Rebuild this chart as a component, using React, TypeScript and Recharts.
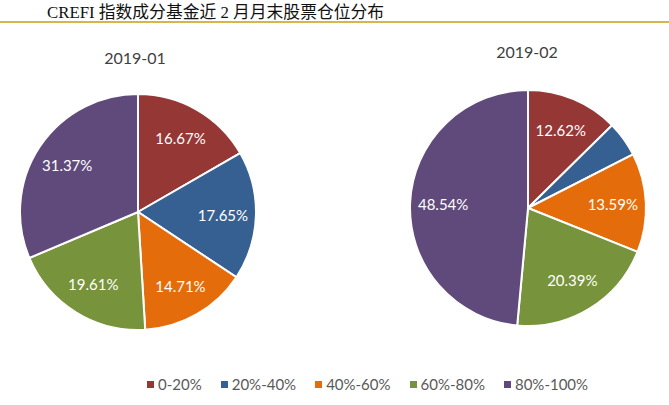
import React from 'react';
import { PieChart, Pie, Cell } from 'recharts';

// stock position buckets
const CATEGORIES = ['0-20%', '20%-40%', '40%-60%', '60%-80%', '80%-100%'];
const JAN_VALUES = [16.67, 17.65, 14.71, 19.61, 31.37];
const FEB_VALUES = [12.62, 4.86, 13.59, 20.39, 48.54];
const PERIODS = ['2019-01', '2019-02'];

const COLORS = ['#953735', '#376092', '#E46C0A', '#77933C', '#604A7B'];
const FONT = 'Lato, "Noto Sans", sans-serif';
const RADIAN = Math.PI / 180;

const janData = CATEGORIES.map((name, i) => ({ name, value: JAN_VALUES[i] }));
const febData = CATEGORIES.map((name, i) => ({ name, value: FEB_VALUES[i] }));

const renderLabel = (props: any) => {
  const { cx, cy, midAngle, outerRadius, value } = props;
  // small slices get no label, like the original
  if (value < 6) return null;
  const r = outerRadius * 0.72;
  const x = cx + r * Math.cos(-midAngle * RADIAN);
  const y = cy + r * Math.sin(-midAngle * RADIAN);
  return (
    <text
      x={x}
      y={y}
      fill="#ffffff"
      fontSize={15}
      fontFamily={FONT}
      textAnchor="middle"
      dominantBaseline="central"
    >
      {value.toFixed(2)}%
    </text>
  );
};

export default function App() {
  return (
    <div
      style={{
        position: 'absolute',
        left: 0,
        top: 0,
        width: 669,
        height: 405,
        background: '#ffffff',
        overflow: 'hidden',
      }}
    >
      <div
        style={{
          position: 'absolute',
          left: 47,
          top: -1,
          fontFamily: '"Liberation Serif", "Noto Sans CJK SC", serif',
          fontSize: 16.8,
          color: '#111',
          whiteSpace: 'nowrap',
        }}
      >
        CREFI 指数成分基金近 2 月月末股票仓位分布
      </div>
      <div
        style={{
          position: 'absolute',
          left: 0,
          top: 21,
          width: 669,
          height: 2,
          background: '#D9B44A',
        }}
      />
      <div
        style={{
          position: 'absolute',
          left: 85,
          top: 48,
          width: 100,
          textAlign: 'center',
          fontFamily: FONT,
          fontSize: 16,
          color: '#404040',
        }}
      >
        {PERIODS[0]}
      </div>
      <div
        style={{
          position: 'absolute',
          left: 477,
          top: 42,
          width: 100,
          textAlign: 'center',
          fontFamily: FONT,
          fontSize: 16,
          color: '#404040',
        }}
      >
        {PERIODS[1]}
      </div>

      <PieChart width={669} height={405} style={{ position: 'absolute', left: 0, top: 0 }}>
        <Pie
          data={janData}
          dataKey="value"
          nameKey="name"
          cx={133}
          cy={207}
          outerRadius={118}
          startAngle={90}
          endAngle={-270}
          stroke="#ffffff"
          strokeWidth={2}
          labelLine={false}
          label={renderLabel}
          isAnimationActive={false}
        >
          {janData.map((entry, index) => (
            <Cell key={`jan-${index}`} fill={COLORS[index]} />
          ))}
        </Pie>
        <Pie
          data={febData}
          dataKey="value"
          nameKey="name"
          cx={523}
          cy={203}
          outerRadius={118}
          startAngle={90}
          endAngle={-270}
          stroke="#ffffff"
          strokeWidth={2}
          labelLine={false}
          label={renderLabel}
          isAnimationActive={false}
        >
          {febData.map((entry, index) => (
            <Cell key={`feb-${index}`} fill={COLORS[index]} />
          ))}
        </Pie>
      </PieChart>

      <div
        style={{
          position: 'absolute',
          left: 147,
          top: 375,
          display: 'flex',
          alignItems: 'center',
          fontFamily: FONT,
          fontSize: 15,
          color: '#595959',
          whiteSpace: 'nowrap',
        }}
      >
        {CATEGORIES.map((name, i) => (
          <div key={name} style={{ display: 'flex', alignItems: 'center', marginRight: 19 }}>
            <span
              style={{
                display: 'inline-block',
                width: 7,
                height: 7,
                background: COLORS[i],
                marginRight: 4,
              }}
            />
            {name}
          </div>
        ))}
      </div>
    </div>
  );
}
